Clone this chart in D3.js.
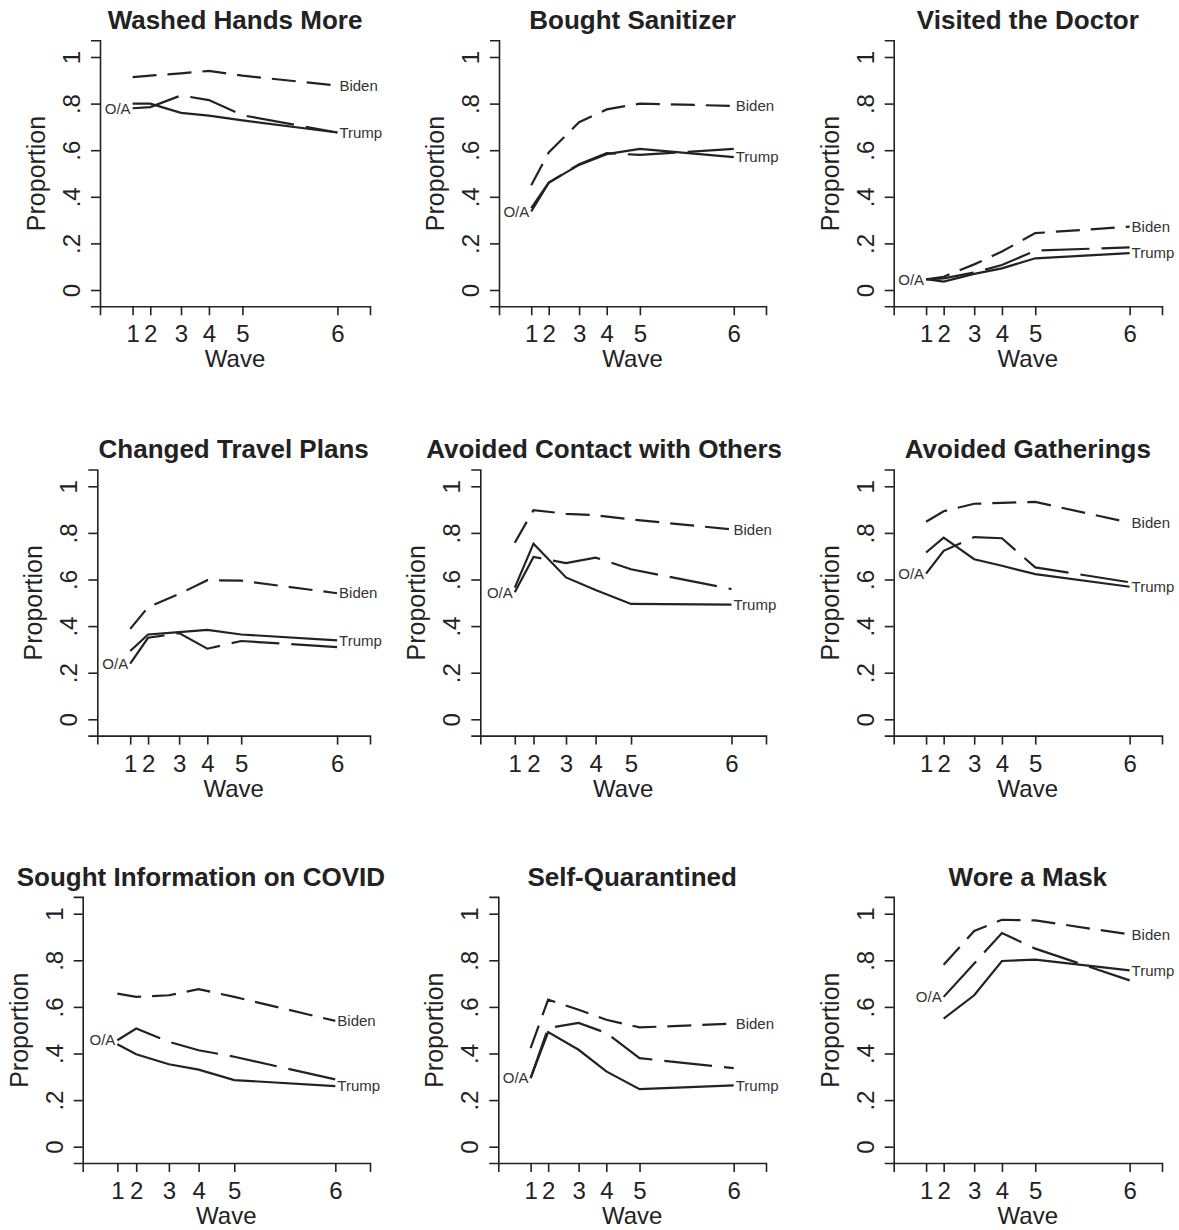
<!DOCTYPE html>
<html lang="en">
<head>
  <meta charset="UTF-8" />
  <script src="https://d3js.org/d3.v7.min.js"></script>
  <style>
    body { margin: 0; background: #fff; }
    svg text { font-family: "Liberation Sans", Arial, Helvetica, sans-serif; fill: #222; }
  </style>
</head>
<body onload="init()">
  <div id="chart"></div>

  <script>
    // waves and their (uneven) timing along the x axis
    const waves = [1, 2, 3, 4, 5, 6];
    const wavePos = [0, 19, 52, 82, 118, 220];

    const titles = [
      "Washed Hands More", "Bought Sanitizer", "Visited the Doctor",
      "Changed Travel Plans", "Avoided Contact with Others", "Avoided Gatherings",
      "Sought Information on COVID", "Self-Quarantined", "Wore a Mask"
    ];

    // proportions per panel, waves 1..6 (null = not asked)
    const biden = [
      [0.914, 0.92, 0.93, 0.94, 0.92, 0.877],
      [0.45, 0.59, 0.72, 0.775, 0.80, 0.79],
      [0.046, 0.057, 0.11, 0.165, 0.244, 0.272],
      [0.388, 0.481, 0.538, 0.597, 0.595, 0.541],
      [0.758, 0.898, 0.882, 0.876, 0.858, 0.815],
      [0.848, 0.893, 0.925, 0.929, 0.933, 0.844],
      [0.657, 0.643, 0.65, 0.676, 0.643, 0.54],
      [0.423, 0.631, 0.588, 0.545, 0.512, 0.528],
      [null, 0.781, 0.926, 0.974, 0.971, 0.911]
    ];
    const oa = [
      [0.78, 0.785, 0.835, 0.815, 0.75, 0.676],
      [0.337, 0.46, 0.54, 0.587, 0.58, 0.606],
      [0.046, 0.05, 0.075, 0.107, 0.169, 0.183],
      [0.239, 0.35, 0.37, 0.303, 0.336, 0.31],
      [0.545, 0.697, 0.67, 0.694, 0.644, 0.559],
      [0.625, 0.723, 0.782, 0.777, 0.652, 0.588],
      [0.457, 0.507, 0.45, 0.414, 0.386, 0.289],
      [0.294, 0.509, 0.531, 0.488, 0.38, 0.337],
      [null, 0.643, 0.786, 0.917, 0.85, 0.714]
    ];
    const trump = [
      [0.80, 0.80, 0.76, 0.748, 0.728, 0.676],
      [0.351, 0.461, 0.537, 0.583, 0.606, 0.57],
      [0.046, 0.036, 0.069, 0.093, 0.136, 0.158],
      [0.293, 0.364, 0.374, 0.384, 0.364, 0.339],
      [0.565, 0.754, 0.609, 0.555, 0.495, 0.492],
      [0.716, 0.78, 0.687, 0.659, 0.623, 0.569],
      [0.44, 0.397, 0.354, 0.331, 0.286, 0.26],
      [0.294, 0.492, 0.416, 0.323, 0.247, 0.263],
      [null, 0.55, 0.65, 0.797, 0.803, 0.757]
    ];

    const yTicks = [0, 0.2, 0.4, 0.6, 0.8, 1];

    // layout of the 3x3 grid
    const W = 1179, H = 1230;
    const plotLeft = [100, 499, 893.7, 97.3, 480.3, 893.7, 82.7, 498.3, 893.7];
    const plotRight = [370, 766, 1162];
    const cellRight = [385, 782, 1177];
    const rowZero = [290, 719.3, 1146.7];
    const unit = 233;

    function init() {
      const svg = d3.select("#chart").append("svg")
        .attr("width", W).attr("height", H);

      titles.forEach((t, i) => drawPanel(svg, i));
    }

    function drawPanel(svg, i) {
      const col = i % 3, row = Math.floor(i / 3);
      const left = plotLeft[i], right = plotRight[col];
      const y0 = rowZero[row];

      const x = d3.scaleLinear().domain([-35, 255]).range([left, right]);
      const y = d3.scaleLinear().domain([-0.07, 1.072]).range([y0 + 0.07 * unit, y0 - 1.072 * unit]);

      const g = svg.append("g");

      // axes
      const xAxis = g.append("g")
        .attr("transform", `translate(0,${y(-0.07)})`)
        .call(d3.axisBottom(x).tickValues(wavePos).tickSizeOuter(0).tickSize(9)
          .tickFormat((d, k) => waves[k]));
      xAxis.selectAll("text").attr("y", 36).attr("dy", 0).style("font-size", "24px");

      const yAxis = g.append("g")
        .attr("transform", `translate(${x(-35)},0)`)
        .call(d3.axisLeft(y).tickValues(yTicks).tickSizeOuter(0).tickSize(9)
          .tickFormat(d => d === 0 ? "0" : d === 1 ? "1" : d3.format(".1f")(d).replace(/^0/, "")));
      yAxis.selectAll("text")
        .attr("transform", "rotate(-90)")
        .attr("x", 0).attr("y", -20).attr("dy", 0)
        .attr("text-anchor", "middle")
        .style("font-size", "24px");

      [xAxis, yAxis].forEach(a => {
        a.selectAll("path, line").attr("stroke", "#222").attr("stroke-width", 1.6);
      });

      // axis titles
      g.append("text")
        .attr("transform", `translate(${left - 55},${y(0.5)}) rotate(-90)`)
        .attr("text-anchor", "middle")
        .style("font-size", "25px")
        .text("Proportion");
      g.append("text")
        .attr("x", x(110)).attr("y", y(-0.07) + 61)
        .attr("text-anchor", "middle")
        .style("font-size", "24px")
        .text("Wave");

      // panel title, centred over plot but kept inside the cell
      const title = g.append("text")
        .attr("y", y(1) - 28)
        .attr("text-anchor", "middle")
        .style("font-size", "26px").style("font-weight", "bold")
        .text(titles[i]);
      const tw = title.node().getComputedTextLength();
      const cx = Math.min((left + right) / 2, cellRight[col] - tw / 2);
      title.attr("x", cx);

      // lines
      const line = d3.line()
        .defined(d => d.v != null)
        .x(d => x(d.p)).y(d => y(d.v));

      const series = [
        { vals: biden[i], dash: "24,11" },
        { vals: oa[i], dash: "48,12" },
        { vals: trump[i], dash: null }
      ];
      series.forEach(s => {
        const pts = s.vals.map((v, k) => ({ p: wavePos[k], v }));
        g.append("path")
          .datum(pts)
          .attr("d", line)
          .attr("fill", "none")
          .attr("stroke", "#222")
          .attr("stroke-width", 2.2)
          .attr("stroke-dasharray", s.dash);
      });

      // series labels
      const last = wavePos.length - 1;
      g.append("text")
        .attr("x", x(wavePos[last]) + 2).attr("y", y(biden[i][last]))
        .attr("dy", "0.35em").style("font-size", "15px").style("fill", "#333")
        .text("Biden");
      g.append("text")
        .attr("x", x(wavePos[last]) + 2).attr("y", y(trump[i][last]))
        .attr("dy", "0.35em").style("font-size", "15px").style("fill", "#333")
        .text("Trump");
      const firstK = oa[i].findIndex(v => v != null);
      g.append("text")
        .attr("x", x(wavePos[firstK]) - 2).attr("y", y(oa[i][firstK]))
        .attr("dy", "0.35em").attr("text-anchor", "end")
        .style("font-size", "15px").style("fill", "#333")
        .text("O/A");
    }
  </script>
</body>
</html>
